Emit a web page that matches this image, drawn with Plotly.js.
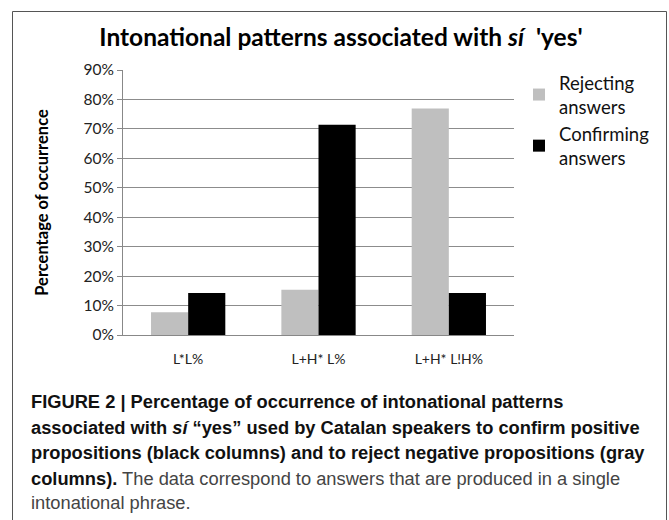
<!DOCTYPE html>
<html>
<head>
<meta charset="utf-8">
<script src="https://cdn.plot.ly/plotly-3.0.1.min.js"></script>
<style>
html,body{margin:0;padding:0;background:#fff;}
#chart{width:669px;height:520px;}
</style>
</head>
<body>
<div id="chart"></div>
<script>
// ---- data ----
const categories = ["L*L%", "L+H* L%", "L+H* L!H%"];
const rejecting = [7.69, 15.38, 76.92];
const confirming = [14.29, 71.43, 14.29];
const seriesNames = ["Rejecting<br>answers", "Confirming<br>answers"];
const yTicks = [0, 10, 20, 30, 40, 50, 60, 70, 80, 90];

// ---- layout helpers (pixel -> paper) ----
const W = 669, H = 520;
const mL = 123, mR = W - 514, mT = 70, mB = H - 335;
const pw = W - mL - mR, ph = H - mT - mB;
const px = x => (x - mL) / pw;
const py = y => (H - mB - y) / ph;

const FONT = "Lato, 'Open Sans', sans-serif";
const CAP = "'Liberation Sans', Arial, sans-serif";

const traces = [
  {type: "bar", x: categories, y: rejecting, name: seriesNames[0],
   marker: {color: "#bfbfbf"}},
  {type: "bar", x: categories, y: confirming, name: seriesNames[1],
   marker: {color: "#000000"}}
];

const capY = [401, 427, 452, 478, 503];
const capLines = [
  "<b>FIGURE 2 | Percentage of occurrence of intonational patterns</b>",
  "<b>associated with <i>sí</i> “yes” used by Catalan speakers to confirm positive</b>",
  "<b>propositions (black columns) and to reject negative propositions (gray</b>",
  "<b>columns).</b><span style=\"color:#444\"> The data correspond to answers that are produced in a single</span>",
  "<span style=\"color:#444\">intonational phrase.</span>"
];

const annotations = capLines.map((t, i) => ({
  xref: "paper", yref: "paper", x: px(29), y: py(capY[i]),
  xanchor: "left", yanchor: "middle", showarrow: false, align: "left",
  text: t, font: {family: CAP, size: 18.3, color: "#111"}
}));

const layout = {
  width: W, height: H,
  margin: {l: mL, r: mR, t: mT, b: mB, pad: 0},
  paper_bgcolor: "#fff", plot_bgcolor: "#fff",
  title: {
    text: "<b>Intonational patterns associated with <i>sí</i>\u00a0 'yes'</b>",
    font: {family: FONT, size: 24.5, color: "#000"},
    x: px(341), xanchor: "center", xref: "paper",
    y: 1 - 37 / H, yanchor: "middle", yref: "container"
  },
  barmode: "group", bargap: 0.43, bargroupgap: 0,
  showlegend: true,
  legend: {
    x: px(519), y: py(64), xanchor: "left", yanchor: "top",
    font: {family: FONT, size: 18.5, color: "#111"},
    bgcolor: "rgba(0,0,0,0)", borderwidth: 0, tracegroupgap: 0
  },
  xaxis: {
    type: "category", showgrid: false, zeroline: false,
    showline: true, linecolor: "#888", linewidth: 1,
    ticks: "", ticklabelstandoff: 11,
    tickfont: {family: FONT, size: 14, color: "#222"}
  },
  yaxis: {
    range: [0, 90], tickvals: yTicks, ticktext: yTicks.map(v => v + "%"),
    showgrid: true, gridcolor: "#8c8c8c", gridwidth: 1,
    zeroline: false, showline: true, linecolor: "#888", linewidth: 1,
    ticks: "outside", ticklen: 5, tickcolor: "#888",
    tickfont: {family: FONT, size: 15.5, color: "#222"},
    title: {text: "<b>Percentage of occurrence</b>",
            font: {family: FONT, size: 16.5, color: "#000"}, standoff: 30}
  },
  shapes: [{
    type: "rect", xref: "paper", yref: "paper",
    x0: px(12.5), x1: px(666.5), y0: py(11.5), y1: py(525),
    line: {color: "#555", width: 1}, fillcolor: "rgba(0,0,0,0)", layer: "below"
  }],
  annotations: annotations
};

Plotly.newPlot("chart", traces, layout, {displayModeBar: false, staticPlot: true});
</script>
</body>
</html>
